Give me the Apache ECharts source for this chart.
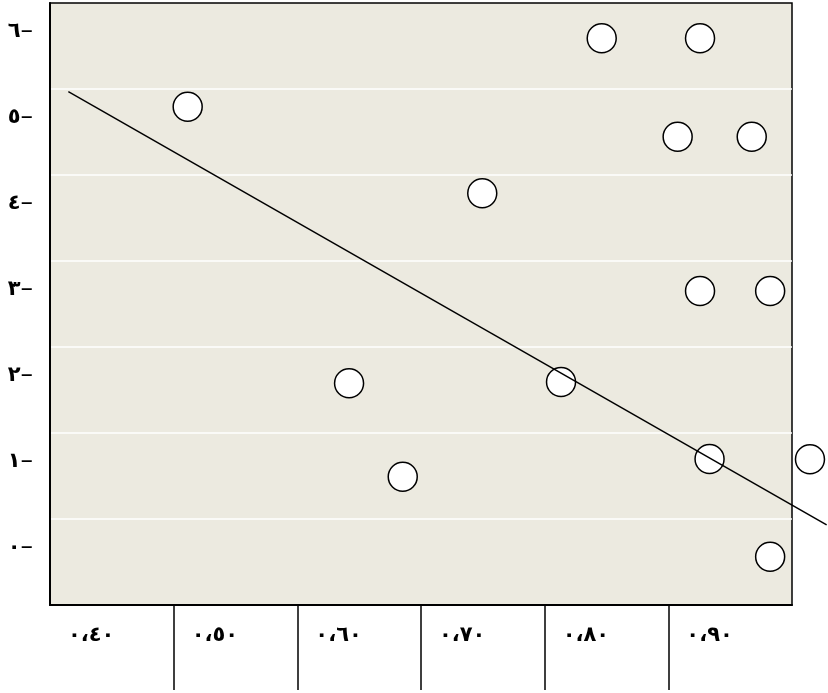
<!DOCTYPE html>
<html>
<head>
<meta charset="utf-8">
<script src="https://cdn.jsdelivr.net/npm/echarts@6/dist/echarts.min.js"></script>
<style>html,body{margin:0;padding:0;background:#fff;}#c{width:828px;height:693px;}</style>
</head>
<body>
<div id="c"></div>
<script>
// Scatter points (x = ratio, y = value)
const pointX = [0.478, 0.8128, 0.8923, 0.8742, 0.9341, 0.7162, 0.8923, 0.949, 0.6085, 0.7799, 0.900, 0.9812, 0.6519, 0.949];
const pointY = [5.128, 5.923, 5.923, 4.779, 4.779, 4.121, 2.985, 2.985, 1.911, 1.926, 1.03, 1.028, 0.825, -0.105];
// Regression line end points
const lineX = [0.3815, 0.9947];
const lineY = [5.302, 0.266];
// Axis tick labels
const xTickValues = [0.4, 0.5, 0.6, 0.7, 0.8, 0.9];
const xTickLabels = ['٠،٤٠', '٠،٥٠', '٠،٦٠', '٠،٧٠', '٠،٨٠', '٠،٩٠'];
const xSeparators = [14/30, 17/30, 20/30, 23/30, 26/30];
const yTickValues = [0, 1, 2, 3, 4, 5, 6];
const yTickLabels = ['٠', '١', '٢', '٣', '٤', '٥', '٦'];
const yGridValues = [1/3, 4/3, 7/3, 10/3, 13/3, 16/3];

const X_MIN = 11/30, X_MAX = 29/30;
const Y_MIN = -2/3, Y_MAX = 19/3;
const PLOT_LEFT = 50, PLOT_RIGHT = 36, CHART_W = 828;
// wider helper grid (same scale) so the fitted line can run past the frame
const X_MAX_WIDE = X_MIN + (X_MAX - X_MIN) * (CHART_W - PLOT_LEFT) / (CHART_W - PLOT_LEFT - PLOT_RIGHT);

const FONT = '"DejaVu Sans", sans-serif';
const chart = echarts.init(document.getElementById('c'), null, {renderer: 'canvas'});
chart.setOption({
  animation: false,
  backgroundColor: '#ffffff',
  grid: [
    {
      left: PLOT_LEFT, right: PLOT_RIGHT, top: 3, bottom: 88,
      show: true, backgroundColor: '#ECEAE0', borderColor: '#000', borderWidth: 1.5
    },
    {left: PLOT_LEFT, right: 0, top: 3, bottom: 88, show: false}
  ],
  xAxis: [
    {
      type: 'value', gridIndex: 0,
      min: X_MIN, max: X_MAX,
      axisLine: {show: true, onZero: false, lineStyle: {color: '#000', width: 2}},
      axisTick: {show: true, customValues: xSeparators, length: 85, lineStyle: {color: '#000', width: 1.5}},
      splitLine: {show: false},
      axisLabel: {
        customValues: xTickValues,
        margin: 20,
        color: '#000',
        fontFamily: FONT,
        fontWeight: 'bold',
        fontSize: 21,
        formatter: function (v) {
          for (let i = 0; i < xTickValues.length; i++) {
            if (Math.abs(v - xTickValues[i]) < 1e-6) return xTickLabels[i];
          }
          return '';
        }
      }
    },
    {
      type: 'value', gridIndex: 1, show: false,
      min: X_MIN, max: X_MAX_WIDE
    }
  ],
  yAxis: [
    {
      type: 'value', gridIndex: 0,
      min: Y_MIN, max: Y_MAX,
      axisLine: {show: true, onZero: false, lineStyle: {color: '#000', width: 2}},
      axisTick: {show: false, customValues: yGridValues},
      splitLine: {show: true, lineStyle: {color: '#ffffff', width: 1.5}},
      axisLabel: {
        customValues: yTickValues,
        margin: 17,
        color: '#000',
        fontFamily: FONT,
        fontSize: 21,
        rich: {
          n: {fontFamily: FONT, fontWeight: 'bold', fontSize: 21, color: '#000'},
          d: {fontFamily: FONT, fontWeight: 'normal', fontSize: 25, color: '#000'}
        },
        formatter: function (v) {
          for (let i = 0; i < yTickValues.length; i++) {
            if (Math.abs(v - yTickValues[i]) < 1e-6) return '{n|' + yTickLabels[i] + '}{d|–}';
          }
          return '';
        }
      }
    },
    {
      type: 'value', gridIndex: 1, show: false,
      min: Y_MIN, max: Y_MAX
    }
  ],
  series: [
    {
      type: 'scatter',
      xAxisIndex: 0, yAxisIndex: 0,
      clip: false,
      symbol: 'circle',
      symbolSize: 29,
      itemStyle: {color: '#ffffff', borderColor: '#000', borderWidth: 1.5, opacity: 1},
      data: pointX.map((x, i) => [x, pointY[i]]),
      z: 2
    },
    {
      type: 'line',
      xAxisIndex: 1, yAxisIndex: 1,
      clip: false,
      symbol: 'none',
      lineStyle: {color: '#000', width: 1.5},
      data: lineX.map((x, i) => [x, lineY[i]]),
      z: 3
    }
  ]
});
</script>
</body>
</html>
